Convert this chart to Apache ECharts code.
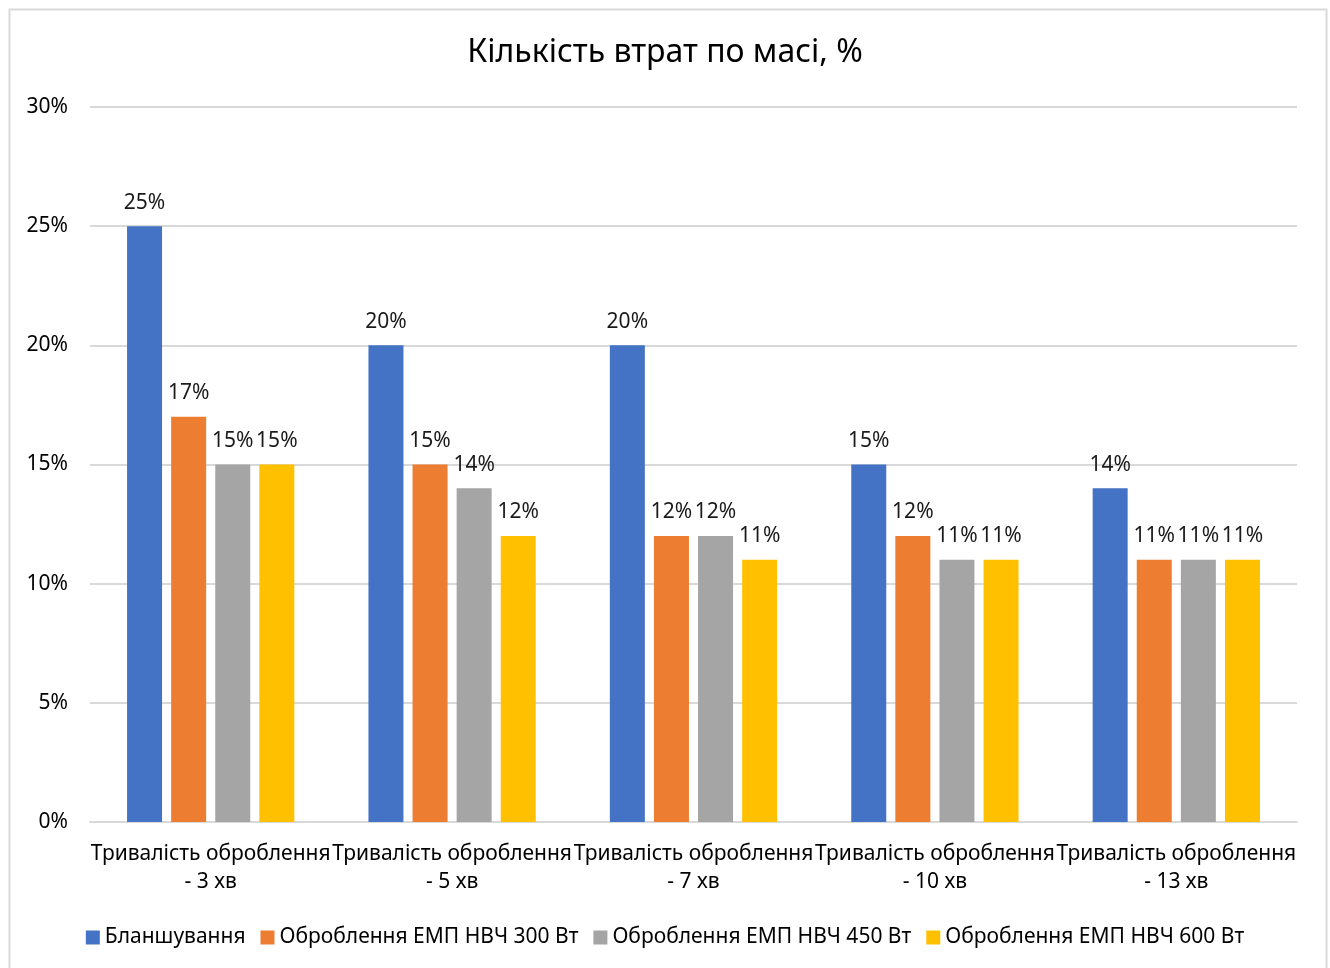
<!DOCTYPE html>
<html>
<head>
<meta charset="utf-8">
<script src="https://cdn.jsdelivr.net/npm/echarts@6/dist/echarts.min.js"></script>
<style>
  html, body { margin: 0; padding: 0; background: #fff; }
  #chart { width: 1330px; height: 968px; }
</style>
</head>
<body>
<div id="chart"></div>
<script>
  var categories = [
    'Тривалість оброблення\n- 3 хв',
    'Тривалість оброблення\n- 5 хв',
    'Тривалість оброблення\n- 7 хв',
    'Тривалість оброблення\n- 10 хв',
    'Тривалість оброблення\n- 13 хв'
  ];
  var seriesNames = ['Бланшування', 'Оброблення ЕМП НВЧ 300 Вт', 'Оброблення ЕМП НВЧ 450 Вт', 'Оброблення ЕМП НВЧ 600 Вт'];
  var blanching = [25, 20, 20, 15, 14];
  var emp300 = [17, 15, 12, 12, 11];
  var emp450 = [15, 14, 12, 11, 11];
  var emp600 = [15, 12, 11, 11, 11];
  var colors = ['#4472c4', '#ed7d31', '#a5a5a5', '#ffc000'];

  var font = '"Noto Sans", sans-serif';
  var chart = echarts.init(document.getElementById('chart'));

  function bar(name, data, i) {
    return {
      name: name,
      type: 'bar',
      data: data,
      barWidth: 35,
      barGap: '26%',
      itemStyle: { color: colors[i] },
      label: {
        show: true,
        position: 'top',
        distance: 13,
        formatter: '{c}%',
        color: '#1a1a1a',
        fontSize: 21,
        fontFamily: font
      }
    };
  }

  var option = {
    animation: false,
    textStyle: { fontFamily: font },
    title: {
      text: 'Кількість втрат по масі, %',
      left: 'center',
      top: 32,
      textStyle: { fontSize: 32, fontWeight: 'normal', color: '#000', fontFamily: font }
    },
    graphic: [{
      type: 'rect',
      shape: { x: 9.5, y: 9.5, width: 1317, height: 990 },
      style: { fill: 'none', stroke: '#d9d9d9', lineWidth: 2 },
      silent: true
    }],
    legend: {
      data: seriesNames,
      bottom: 15,
      left: 'center',
      icon: 'rect',
      itemWidth: 14,
      itemHeight: 14,
      itemGap: 15,
      itemStyle: { borderWidth: 0 },
      textStyle: { fontSize: 21, color: '#000', fontFamily: font }
    },
    grid: { left: 90, right: 33, top: 107, bottom: 146 },
    xAxis: {
      type: 'category',
      data: categories,
      axisTick: { show: false },
      axisLine: { lineStyle: { color: '#d9d9d9', width: 2 } },
      axisLabel: {
        interval: 0,
        margin: 18,
        fontSize: 21,
        lineHeight: 28,
        color: '#000',
        fontFamily: font
      }
    },
    yAxis: {
      type: 'value',
      min: 0,
      max: 30,
      interval: 5,
      axisLine: { show: false },
      axisTick: { show: false },
      splitLine: { lineStyle: { color: '#d9d9d9', width: 2 } },
      axisLabel: {
        formatter: '{value}%',
        margin: 22,
        fontSize: 21,
        color: '#000',
        fontFamily: font
      }
    },
    series: [
      bar(seriesNames[0], blanching, 0),
      bar(seriesNames[1], emp300, 1),
      bar(seriesNames[2], emp450, 2),
      bar(seriesNames[3], emp600, 3)
    ]
  };
  chart.setOption(option);
</script>
</body>
</html>
